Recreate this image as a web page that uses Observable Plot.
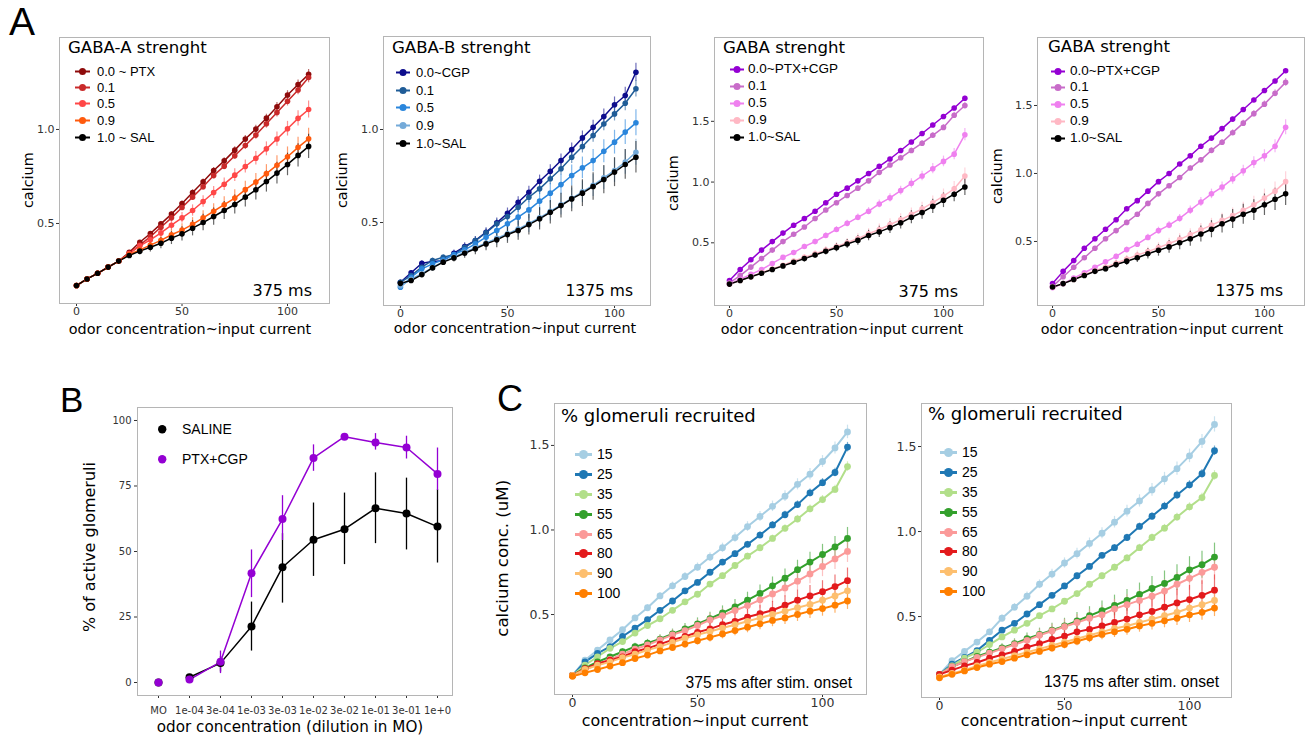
<!DOCTYPE html>
<html><head><meta charset="utf-8">
<script src="https://cdn.jsdelivr.net/npm/d3@7"></script>
<script src="https://cdn.jsdelivr.net/npm/@observablehq/plot@0.6"></script>
<style>
body{margin:0;background:#fff;}
#fig{position:relative;width:1308px;height:738px;overflow:hidden;background:#fff;color:#000;}
.abs{position:absolute;white-space:nowrap;line-height:1;}
.pan{position:absolute;}
.pan svg{overflow:visible;}
</style></head><body><div id="fig"></div>
<script>
// ---------- DATA ----------
const concentration = [0,5,10,15,20,25,30,35,40,45,50,55,60,65,70,75,80,85,90,95,100,105,110];

// Panel A1 : GABA-A strength, 375 ms
const gabaALevels = ["0.0 ~ PTX","0.1","0.5","0.9","1.0 ~ SAL"];
const gabaAColors = ["#8e0b0b","#c92a2a","#ff4747","#ff5a0d","#000000"];
const gabaAMean = [
  [.17,.205,.235,.268,.30,.347,.40,.447,.498,.55,.606,.665,.722,.782,.833,.89,.949,1.002,1.06,1.121,1.183,1.239,1.293],
  [.17,.205,.235,.268,.30,.34,.385,.43,.48,.53,.585,.64,.695,.755,.805,.86,.915,.97,1.03,1.09,1.15,1.21,1.276],
  [.17,.205,.235,.268,.30,.34,.381,.413,.45,.491,.53,.569,.617,.665,.709,.757,.803,.847,.897,.949,1.004,1.059,1.106],
  [.17,.205,.235,.268,.30,.335,.36,.385,.41,.44,.465,.495,.53,.565,.60,.635,.68,.72,.765,.81,.855,.905,.95],
  [.17,.205,.235,.268,.30,.33,.353,.374,.395,.422,.445,.475,.505,.537,.569,.601,.64,.679,.723,.768,.814,.862,.91]
];
const gabaAErr = [
  [.004,.004,.005,.006,.007,.008,.009,.01,.011,.012,.013,.014,.015,.016,.017,.018,.019,.02,.021,.022,.023,.024,.026],
  [.004,.005,.006,.007,.008,.009,.011,.012,.013,.014,.015,.016,.017,.018,.019,.02,.021,.022,.023,.024,.025,.026,.028],
  [.004,.005,.006,.008,.01,.013,.016,.019,.022,.025,.028,.03,.031,.032,.033,.034,.035,.036,.037,.038,.039,.04,.045],
  [.004,.005,.006,.008,.011,.014,.018,.022,.026,.03,.033,.036,.038,.04,.042,.044,.045,.046,.048,.05,.052,.054,.056],
  [.004,.005,.006,.009,.012,.016,.02,.025,.03,.034,.038,.041,.044,.046,.048,.05,.052,.054,.056,.058,.06,.062,.065]
];

// Panel A2 : GABA-B strength, 1375 ms
const gabaBLevels = ["0.0~CGP","0.1","0.5","0.9","1.0~SAL"];
const gabaBColors = ["#0d0d8c","#1f5c97","#2a86dc","#74aad9","#000000"];
const gabaBMean = [
  [.179,.23,.281,.29,.295,.335,.371,.403,.448,.498,.55,.609,.663,.722,.776,.833,.892,.955,1.012,1.07,1.133,1.183,1.308],
  [.179,.215,.26,.296,.313,.328,.367,.403,.445,.493,.532,.582,.636,.681,.735,.789,.851,.909,.968,1.03,1.084,1.141,1.219],
  [.152,.206,.251,.278,.30,.328,.353,.385,.421,.457,.493,.529,.568,.615,.658,.704,.753,.794,.833,.883,.932,.986,1.036],
  [.16,.195,.225,.258,.29,.315,.34,.365,.39,.415,.44,.465,.495,.525,.56,.595,.63,.665,.70,.74,.78,.825,.878],
  [.173,.188,.22,.256,.287,.31,.335,.359,.385,.407,.435,.457,.489,.52,.555,.591,.627,.658,.694,.731,.771,.812,.851]
];
const gabaBErr = [
  [.01,.012,.014,.015,.016,.018,.02,.022,.024,.026,.028,.03,.032,.033,.034,.035,.036,.037,.038,.04,.042,.044,.048],
  [.01,.011,.012,.013,.014,.016,.018,.02,.022,.024,.026,.028,.03,.031,.032,.033,.034,.035,.036,.037,.038,.04,.044],
  [.008,.01,.012,.014,.017,.02,.024,.028,.032,.036,.04,.044,.048,.05,.052,.054,.056,.058,.06,.062,.064,.066,.07],
  [.008,.01,.012,.014,.017,.02,.024,.028,.032,.036,.04,.044,.048,.05,.052,.054,.056,.058,.06,.062,.064,.066,.07],
  [.008,.01,.012,.015,.018,.022,.027,.032,.037,.042,.047,.052,.056,.06,.063,.066,.069,.072,.074,.076,.078,.08,.085]
];

// Panels A3 / A4 : GABA (A+B) strength
const gabaLevels = ["0.0~PTX+CGP","0.1","0.5","0.9","1.0~SAL"];
const gabaColors = ["#9400d3","#c86cc9","#ef80ef","#ffb8c4","#000000"];
const gaba375Mean = [
  [.19,.28,.36,.44,.51,.58,.645,.70,.76,.83,.90,.95,1.01,1.07,1.13,1.19,1.26,1.33,1.40,1.47,1.54,1.61,1.69],
  [.17,.23,.30,.37,.44,.51,.57,.63,.70,.77,.83,.89,.95,1.01,1.08,1.14,1.20,1.26,1.32,1.385,1.45,1.55,1.63],
  [.16,.20,.24,.28,.33,.38,.42,.47,.51,.56,.61,.66,.71,.76,.82,.87,.93,.99,1.05,1.11,1.17,1.23,1.39],
  [.16,.19,.22,.255,.285,.315,.35,.38,.41,.44,.47,.50,.535,.575,.61,.65,.69,.735,.78,.83,.885,.945,1.05],
  [.16,.19,.22,.25,.28,.31,.34,.37,.40,.43,.46,.49,.52,.56,.59,.625,.665,.71,.75,.80,.85,.90,.96]
];
const gaba375Err = [
  [.004,.005,.005,.006,.006,.007,.007,.008,.008,.009,.009,.01,.01,.011,.011,.012,.012,.013,.013,.014,.014,.015,.016],
  [.004,.005,.006,.007,.008,.009,.01,.011,.012,.013,.014,.015,.016,.017,.018,.019,.02,.021,.022,.023,.024,.025,.028],
  [.005,.006,.008,.01,.012,.014,.016,.018,.02,.022,.024,.026,.028,.03,.032,.034,.036,.038,.04,.042,.044,.046,.05],
  [.005,.007,.009,.012,.015,.018,.021,.024,.027,.03,.033,.036,.039,.042,.045,.048,.05,.052,.054,.056,.058,.06,.065],
  [.005,.007,.01,.013,.016,.019,.022,.025,.028,.031,.034,.037,.04,.043,.046,.049,.052,.054,.056,.058,.06,.062,.07]
];
const gaba1375Mean = [
  [.19,.28,.36,.45,.52,.59,.66,.74,.80,.87,.94,1.00,1.07,1.13,1.20,1.26,1.33,1.40,1.47,1.54,1.61,1.68,1.755],
  [.17,.24,.31,.38,.45,.52,.58,.64,.70,.78,.85,.91,.97,1.04,1.10,1.17,1.23,1.30,1.37,1.44,1.51,1.59,1.67],
  [.16,.19,.23,.27,.31,.35,.39,.44,.48,.53,.58,.62,.67,.73,.79,.85,.90,.96,1.02,1.08,1.13,1.20,1.34],
  [.165,.19,.22,.255,.285,.31,.34,.37,.40,.425,.455,.485,.515,.55,.585,.62,.655,.69,.73,.77,.82,.87,.94],
  [.165,.19,.22,.25,.28,.30,.33,.355,.38,.41,.435,.46,.49,.52,.555,.59,.63,.665,.70,.73,.77,.81,.85]
];
const gaba1375Err = [
  [.004,.005,.005,.006,.006,.007,.007,.008,.008,.009,.009,.01,.01,.011,.011,.012,.012,.013,.013,.014,.014,.015,.016],
  [.004,.005,.006,.007,.008,.009,.01,.011,.012,.013,.014,.015,.016,.017,.018,.019,.02,.021,.022,.023,.024,.025,.028],
  [.005,.007,.009,.011,.013,.015,.017,.019,.021,.023,.025,.027,.029,.031,.033,.035,.037,.039,.041,.043,.045,.048,.055],
  [.005,.008,.011,.014,.017,.02,.023,.026,.029,.032,.035,.038,.041,.044,.047,.05,.053,.056,.059,.062,.065,.068,.072],
  [.005,.008,.011,.015,.019,.023,.027,.031,.035,.039,.043,.047,.051,.055,.059,.063,.067,.07,.073,.076,.079,.082,.086]
];

// Panel B
const dilutions = ["MO","1e-04","3e-04","1e-03","3e-03","1e-02","3e-02","1e-01","3e-01","1e+0"];
const treatments = ["SALINE","PTX+CGP"];
const treatmentColors = ["#000000","#9400d3"];
const salineMean = [0,2,7.4,21.4,44,54.5,58.5,66.5,64.5,59.5];
const salineLow  = [0,1,4,12,30.3,40.5,45,53,50.6,45.6];
const salineHigh = [0,3,10,30.7,56.8,68.5,72.3,80,78,73.6];
const ptxCgpMean = [0,1.1,7.9,41.7,62.4,85.7,93.8,91.6,89.7,79.6];
const ptxCgpLow  = [0,0.5,3.4,32.4,54.2,80.6,92.5,88.7,85.3,73.3];
const ptxCgpHigh = [0,1.7,12,50.6,71.3,90.7,95,95,94,89.5];

// Panels C1 / C2 : % glomeruli recruited
const glomLevels = ["15","25","35","55","65","80","90","100"];
const glomColors = ["#a6cee3","#1f78b4","#b2df8a","#33a02c","#fb9a99","#e31a1c","#fdbf6f","#ff7f00"];
const glom375Mean = [
  [.14,.23,.29,.35,.41,.48,.54,.61,.67,.725,.78,.84,.895,.955,1.02,1.08,1.14,1.20,1.27,1.33,1.405,1.485,1.58],
  [.14,.22,.27,.31,.37,.42,.47,.525,.58,.64,.69,.75,.81,.86,.915,.97,1.03,1.09,1.15,1.22,1.28,1.34,1.49],
  [.14,.20,.25,.30,.34,.39,.435,.475,.525,.575,.62,.68,.73,.79,.845,.895,.95,1.01,1.065,1.125,1.18,1.24,1.375],
  [.14,.185,.22,.25,.28,.31,.33,.355,.385,.415,.445,.475,.51,.545,.585,.625,.67,.715,.765,.81,.855,.90,.95],
  [.14,.175,.205,.235,.265,.295,.32,.35,.38,.405,.435,.468,.494,.524,.553,.587,.622,.657,.697,.74,.784,.829,.873],
  [.14,.18,.21,.23,.25,.28,.30,.325,.35,.37,.395,.415,.44,.46,.485,.505,.525,.555,.585,.61,.635,.665,.70],
  [.14,.175,.20,.22,.245,.265,.29,.31,.335,.36,.38,.40,.42,.44,.46,.48,.50,.52,.54,.56,.585,.61,.64],
  [.135,.155,.175,.195,.215,.24,.26,.285,.305,.325,.345,.365,.385,.405,.425,.445,.465,.48,.50,.52,.535,.555,.58]
];
const glom375Err = [
  [.005,.008,.01,.012,.014,.016,.018,.02,.022,.024,.025,.026,.027,.028,.029,.03,.031,.032,.033,.034,.035,.036,.04],
  [.004,.005,.006,.007,.008,.009,.01,.011,.012,.013,.014,.015,.016,.017,.018,.019,.02,.021,.022,.023,.024,.025,.028],
  [.004,.005,.006,.007,.008,.009,.01,.011,.012,.013,.014,.015,.016,.017,.018,.019,.02,.021,.022,.023,.024,.025,.028],
  [.005,.008,.011,.014,.017,.02,.023,.026,.029,.032,.035,.038,.041,.044,.047,.05,.052,.054,.056,.058,.06,.062,.065],
  [.005,.008,.011,.014,.017,.02,.023,.026,.029,.032,.035,.038,.041,.044,.047,.05,.052,.054,.056,.058,.06,.062,.065],
  [.005,.008,.011,.014,.017,.02,.023,.026,.029,.032,.035,.038,.041,.044,.047,.05,.053,.056,.059,.062,.065,.068,.075],
  [.005,.007,.009,.011,.013,.015,.017,.019,.021,.023,.025,.027,.029,.031,.033,.035,.037,.039,.041,.043,.045,.047,.05],
  [.005,.007,.009,.011,.013,.015,.017,.019,.021,.023,.025,.027,.029,.031,.033,.035,.037,.039,.041,.043,.045,.047,.05]
];
const glom1375Mean = [
  [.16,.24,.295,.35,.41,.49,.555,.62,.69,.75,.815,.87,.93,.99,1.055,1.12,1.18,1.245,1.31,1.37,1.445,1.53,1.63],
  [.16,.22,.26,.30,.36,.42,.46,.515,.57,.625,.68,.74,.795,.86,.905,.965,1.03,1.09,1.15,1.215,1.275,1.34,1.475],
  [.16,.21,.255,.29,.335,.38,.42,.46,.505,.545,.59,.635,.69,.74,.79,.845,.905,.965,1.02,1.085,1.145,1.20,1.33],
  [.16,.205,.235,.265,.29,.315,.34,.37,.395,.42,.445,.475,.505,.535,.565,.595,.63,.665,.695,.73,.775,.805,.85],
  [.16,.205,.235,.26,.285,.31,.335,.36,.39,.415,.44,.465,.49,.51,.545,.57,.595,.62,.65,.69,.725,.76,.79],
  [.16,.185,.21,.23,.255,.275,.295,.32,.34,.365,.385,.41,.425,.445,.465,.485,.51,.53,.555,.58,.60,.625,.655],
  [.145,.165,.185,.21,.23,.25,.27,.29,.31,.33,.35,.37,.39,.41,.43,.445,.465,.485,.505,.525,.55,.57,.595],
  [.14,.16,.18,.20,.22,.235,.255,.275,.295,.315,.335,.355,.375,.395,.41,.425,.445,.46,.475,.49,.51,.525,.55]
];
const glom1375Err = [
  [.005,.008,.011,.014,.017,.02,.022,.024,.026,.028,.03,.031,.032,.033,.034,.035,.036,.037,.038,.039,.04,.041,.045],
  [.004,.005,.006,.007,.008,.009,.01,.011,.012,.013,.014,.015,.016,.017,.018,.019,.02,.021,.022,.023,.024,.025,.028],
  [.004,.005,.006,.007,.008,.009,.01,.011,.012,.013,.014,.015,.016,.017,.018,.019,.02,.021,.022,.023,.024,.025,.028],
  [.005,.009,.013,.017,.021,.025,.029,.033,.037,.041,.045,.049,.053,.057,.061,.064,.067,.07,.073,.075,.077,.079,.082],
  [.005,.008,.012,.016,.02,.024,.028,.032,.036,.04,.044,.047,.05,.053,.056,.059,.062,.064,.066,.068,.07,.072,.075],
  [.005,.009,.013,.017,.021,.025,.029,.033,.037,.041,.045,.049,.053,.057,.061,.065,.069,.073,.077,.08,.083,.086,.09],
  [.005,.007,.009,.011,.013,.015,.017,.019,.021,.023,.025,.027,.029,.031,.033,.035,.037,.039,.041,.043,.045,.047,.05],
  [.005,.007,.009,.011,.013,.015,.017,.019,.021,.023,.025,.027,.029,.031,.033,.035,.037,.039,.041,.043,.045,.047,.05]
];

// ---------- HELPERS ----------
const fig = document.getElementById("fig");
const DV = '"DejaVu Sans", Verdana, sans-serif';
const LS = '"Liberation Sans", Arial, sans-serif';

function txt(s, x, cy, o = {}) {
  const fs = o.fs || 14;
  const d = document.createElement("div");
  d.className = "abs";
  d.textContent = s;
  d.style.fontSize = fs + "px";
  d.style.fontFamily = o.font || DV;
  d.style.color = o.color || "#000";
  d.style.left = x + "px";
  d.style.top = (cy - fs / 2) + "px";
  let tr = "";
  if (o.anchor === "middle") tr = "translateX(-50%)";
  if (o.anchor === "end") tr = "translateX(-100%)";
  if (o.rotate) { tr = "translateX(-50%) rotate(-90deg)"; d.style.transformOrigin = "50% 50%"; }
  d.style.transform = tr;
  fig.appendChild(d);
}

function legend(names, colors, o) {
  const ns = "http://www.w3.org/2000/svg";
  names.forEach((name, i) => {
    const cy = o.rows[i];
    const h = 2 * o.r + 4, w = Math.max(o.swW, 2 * o.r + 2);
    const svg = document.createElementNS(ns, "svg");
    svg.setAttribute("width", w); svg.setAttribute("height", h);
    svg.style.position = "absolute";
    svg.style.left = o.swL + "px"; svg.style.top = (cy - h / 2) + "px";
    if (o.lw) {
      const ln = document.createElementNS(ns, "line");
      ln.setAttribute("x1", 0); ln.setAttribute("x2", w);
      ln.setAttribute("y1", h / 2); ln.setAttribute("y2", h / 2);
      ln.setAttribute("stroke", colors[i]); ln.setAttribute("stroke-width", o.lw);
      svg.appendChild(ln);
    }
    const c = document.createElementNS(ns, "circle");
    c.setAttribute("cx", w / 2); c.setAttribute("cy", h / 2); c.setAttribute("r", o.r);
    c.setAttribute("fill", colors[i]);
    svg.appendChild(c);
    fig.appendChild(svg);
    txt(name, o.textL, cy, {fs: o.fs, font: o.font || LS});
  });
}

function buildRows(names, means, errs) {
  const rows = [];
  names.forEach((n, s) => concentration.forEach((x, i) => {
    rows.push({x, y: means[s][i], lo: means[s][i] - errs[s][i], hi: means[s][i] + errs[s][i], g: n});
  }));
  return rows;
}

function curvePanel(p) {
  const rows = buildRows(p.names, p.means, p.errs);
  const chart = Plot.plot({
    width: p.width, height: p.height,
    marginLeft: p.m[0], marginRight: p.m[1], marginTop: p.m[2], marginBottom: p.m[3],
    style: {fontFamily: DV, fontSize: p.tickFs + "px", color: "#333", background: "transparent", overflow: "visible"},
    x: {domain: p.xDomain, ticks: [0, 50, 100], tickSize: 3, tickPadding: p.xPad, label: null},
    y: {domain: p.yDomain, ticks: p.yTicks, tickSize: 3, tickPadding: 2, tickFormat: d3.format(".1f"), label: null},
    color: {domain: p.names, range: p.colors},
    marks: [
      Plot.frame({stroke: "#b5b5b5"}),
      Plot.line(rows, {x: "x", y: "y", z: "g", stroke: "g", strokeWidth: p.lw}),
      Plot.ruleX(rows, {x: "x", y1: "lo", y2: "hi", stroke: "g", strokeOpacity: 0.6, strokeWidth: 1.2}),
      Plot.dot(rows, {x: "x", y: "y", fill: "g", r: p.r})
    ]
  });
  const div = document.createElement("div");
  div.className = "pan";
  div.style.left = p.left + "px"; div.style.top = p.top + "px";
  div.appendChild(chart);
  fig.appendChild(div);
}

// ---------- PANEL A ----------
const aCommon = {top: 0, height: 345, tickFs: 11, lw: 1.5, r: 2.8, xPad: 1};
curvePanel({...aCommon, left: 0, width: 335, m: [59, 6, 37, 42], xDomain: [-8.06, 119.9], yDomain: [0.0745, 1.489], yTicks: [0.5, 1.0],
  names: gabaALevels, colors: gabaAColors, means: gabaAMean, errs: gabaAErr});
curvePanel({...aCommon, left: 335, width: 320, m: [48, 5, 36, 40], xDomain: [-7.9, 116.8], yDomain: [0.054, 1.5], yTicks: [0.5, 1.0],
  names: gabaBLevels, colors: gabaBColors, means: gabaBMean, errs: gabaBErr});
curvePanel({...aCommon, left: 660, width: 330, m: [54, 7, 37, 40], xDomain: [-7.0, 118.7], yDomain: [-0.016, 2.19], yTicks: [0.5, 1.0, 1.5],
  names: gabaLevels, colors: gabaColors, means: gaba375Mean, errs: gaba375Err});
curvePanel({...aCommon, left: 990, width: 318, m: [47, 4, 37, 40], xDomain: [-7.1, 118.9], yDomain: [0.029, 2.0], yTicks: [0.5, 1.0, 1.5],
  names: gabaLevels, colors: gabaColors, means: gaba1375Mean, errs: gaba1375Err});

txt("A", 9, 21, {fs: 39, font: LS});
// titles
txt("GABA-A strenght", 68, 48, {fs: 16.6});
txt("GABA-B strenght", 392, 48, {fs: 16.6});
txt("GABA strenght", 723, 48, {fs: 16.6});
txt("GABA strenght", 1048, 47, {fs: 16.6});
// legends
legend(gabaALevels, gabaAColors, {swL: 75, swW: 15, textL: 97, rows: [71, 87, 103, 120, 137], fs: 13, r: 3.5, lw: 2});
legend(gabaBLevels, gabaBColors, {swL: 396, swW: 14, textL: 416, rows: [72, 90, 107, 125, 143], fs: 13, r: 3.5, lw: 2});
legend(gabaLevels, gabaColors, {swL: 730, swW: 14, textL: 748, rows: [69, 86, 103, 120, 137], fs: 13.5, r: 3.5, lw: 2});
legend(gabaLevels, gabaColors, {swL: 1051, swW: 14, textL: 1070, rows: [71, 87, 104, 121, 138], fs: 13.5, r: 3.5, lw: 2});
// annotations
txt("375 ms", 312, 291, {fs: 16, anchor: "end"});
txt("1375 ms", 633, 292, {fs: 15.5, anchor: "end"});
txt("375 ms", 958, 292, {fs: 16, anchor: "end"});
txt("1375 ms", 1283, 292, {fs: 15.5, anchor: "end"});
// axis labels
txt("odor concentration~input current", 190, 329, {fs: 14.4, anchor: "middle"});
txt("odor concentration~input current", 515, 328, {fs: 14.4, anchor: "middle"});
txt("odor concentration~input current", 842, 329, {fs: 14.4, anchor: "middle"});
txt("odor concentration~input current", 1162, 329, {fs: 14.4, anchor: "middle"});
txt("calcium", 28, 180, {fs: 14.4, rotate: true});
txt("calcium", 342, 180, {fs: 14.4, rotate: true});
txt("calcium", 673, 183, {fs: 14.4, rotate: true});
txt("calcium", 997, 176, {fs: 14.4, rotate: true});

// ---------- PANEL B ----------
(function () {
  const rows = [];
  dilutions.forEach((d, i) => {
    rows.push({x: d, y: salineMean[i], lo: salineLow[i], hi: salineHigh[i], g: "SALINE", i});
  });
  dilutions.forEach((d, i) => {
    rows.push({x: d, y: ptxCgpMean[i], lo: ptxCgpLow[i], hi: ptxCgpHigh[i], g: "PTX+CGP", i});
  });
  const lineRows = rows.filter(r => r.x !== "MO");
  const chart = Plot.plot({
    width: 400, height: 358, marginLeft: 77, marginRight: 8, marginTop: 27, marginBottom: 43,
    style: {fontFamily: DV, fontSize: "10px", color: "#333", background: "transparent", overflow: "visible"},
    x: {type: "point", domain: dilutions, padding: 0.54, align: 0.585, tickSize: 3, tickPadding: 8, label: null},
    y: {domain: [-4.96, 104.96], ticks: [0, 25, 50, 75, 100], tickSize: 3, tickPadding: 3, label: null},
    color: {domain: treatments, range: treatmentColors},
    marks: [
      Plot.frame({stroke: "#b5b5b5"}),
      Plot.ruleX(lineRows, {x: "x", y1: "lo", y2: "hi", stroke: "g", strokeWidth: 1.3}),
      Plot.line(lineRows, {x: "x", y: "y", z: "g", stroke: "g", strokeWidth: 1.5}),
      Plot.dot(rows, {x: "x", y: "y", fill: "g", r: 4})
    ]
  });
  const div = document.createElement("div");
  div.className = "pan"; div.style.left = "60px"; div.style.top = "380px";
  div.appendChild(chart); fig.appendChild(div);
})();
txt("B", 60, 399.5, {fs: 35, font: LS});
legend(treatments, treatmentColors, {swL: 157, swW: 10, textL: 182, rows: [429, 459], fs: 14, r: 4.2, lw: 0});
txt("odor concentration (dilution in MO)", 290, 728, {fs: 15.2, anchor: "middle"});
txt("% of active glomeruli", 90, 547, {fs: 16, rotate: true});

// ---------- PANEL C ----------
const cCommon = {top: 380, height: 358, tickFs: 12.5, lw: 2, r: 3.4, xPad: 1};
curvePanel({...cCommon, left: 490, width: 380, m: [64, 4, 23, 44], xDomain: [-7.2, 117.6], yDomain: [0.027, 1.748], yTicks: [0.5, 1.0, 1.5],
  names: glomLevels, colors: glomColors, means: glom375Mean, errs: glom375Err});
curvePanel({...cCommon, left: 870, width: 438, m: [51, 77, 23, 41], xDomain: [-7.2, 116.8], yDomain: [0.024, 1.753], yTicks: [0.5, 1.0, 1.5],
  names: glomLevels, colors: glomColors, means: glom1375Mean, errs: glom1375Err});
txt("C", 497, 399, {fs: 36, font: LS});
txt("% glomeruli recruited", 561, 416, {fs: 18});
txt("% glomeruli recruited", 928, 414, {fs: 18});
legend(glomLevels, glomColors, {swL: 575, swW: 17, textL: 597, rows: [454, 474, 494, 514, 534, 553, 573, 593], fs: 14, r: 4.5, lw: 3});
legend(glomLevels, glomColors, {swL: 940, swW: 17, textL: 962, rows: [452, 472, 492, 512, 532, 551, 571, 591], fs: 14, r: 4.5, lw: 3});
txt("375 ms after stim. onset", 852, 683, {fs: 15.6, font: LS, anchor: "end"});
txt("1375 ms after stim. onset", 1219, 682, {fs: 15.6, font: LS, anchor: "end"});
txt("concentration~input current", 695, 721, {fs: 15.9, anchor: "middle"});
txt("concentration~input current", 1074, 721, {fs: 15.9, anchor: "middle"});
txt("calcium conc. (uM)", 503, 558, {fs: 16.6, rotate: true});
</script></body></html>
